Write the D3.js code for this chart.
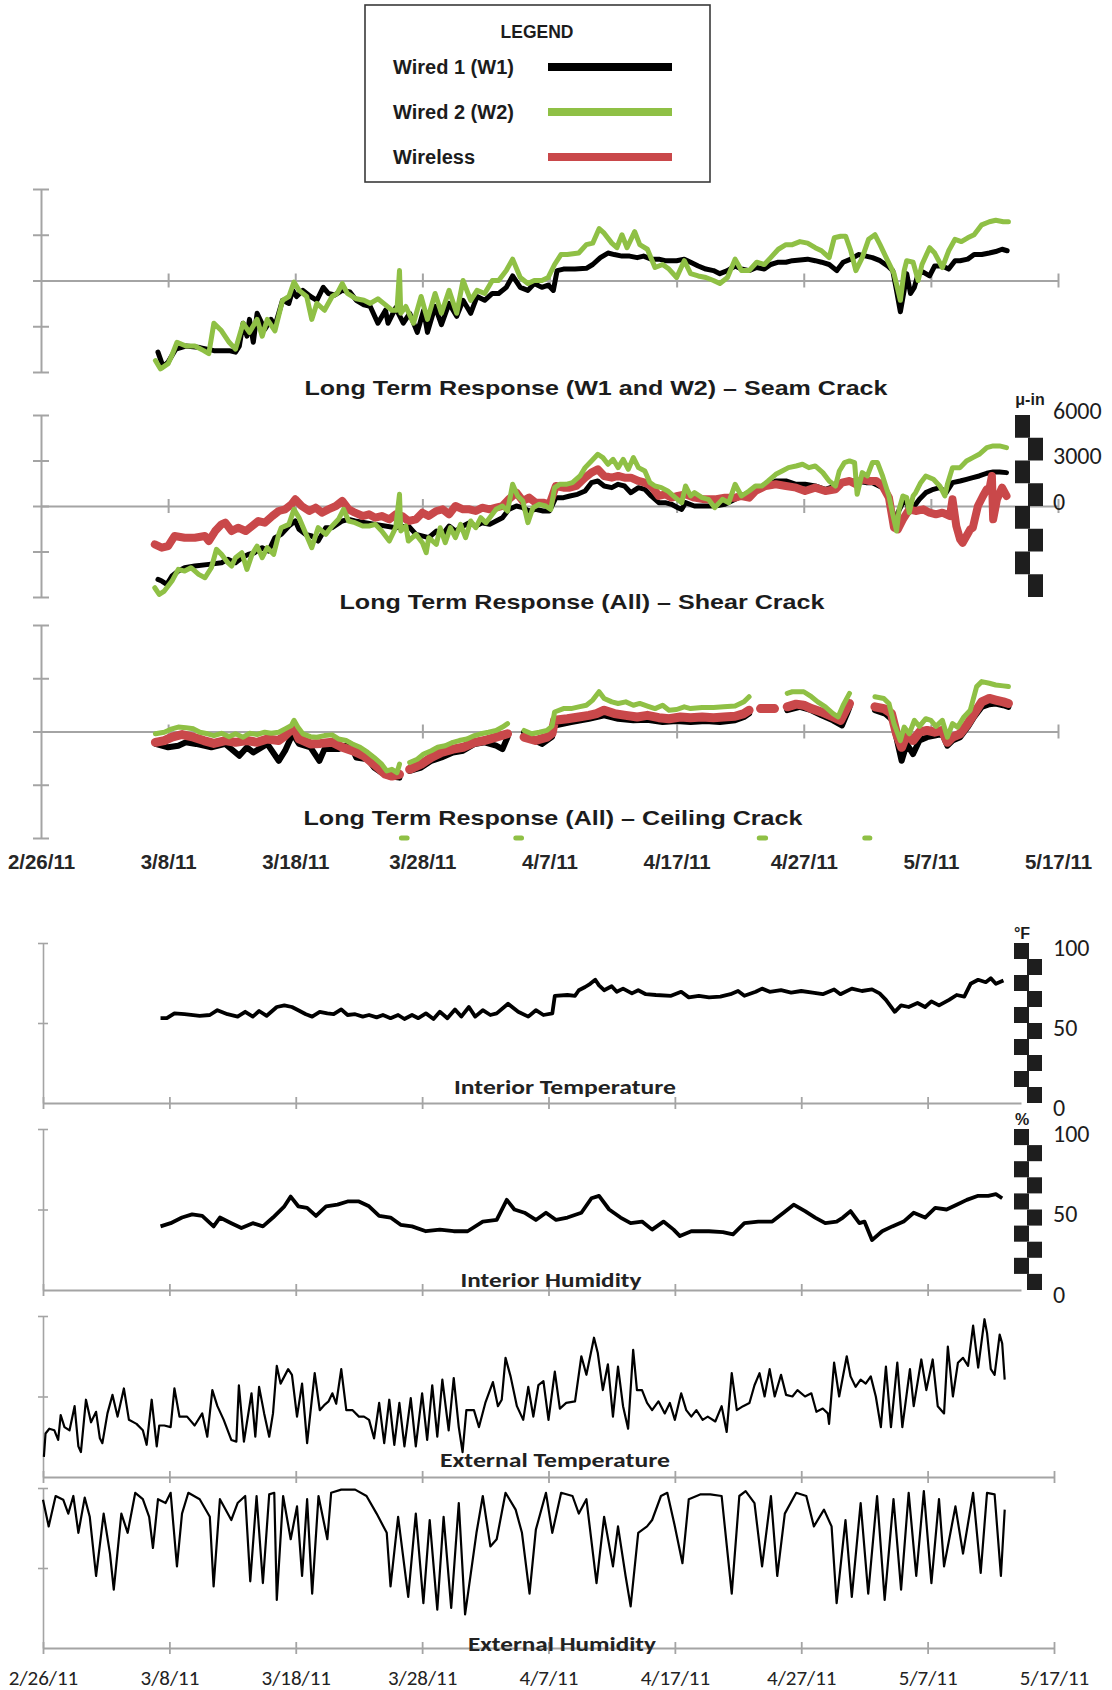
<!DOCTYPE html>
<html>
<head>
<meta charset="utf-8">
<script src="https://cdn.jsdelivr.net/npm/d3@7"></script>
<style>
  body { margin: 0; background: #fff; }
</style>
</head>
<body>
<svg id="chart" width="1112" height="1690"></svg>
<script>
// days are counted from 2/26/11
const START = Date.UTC(2011, 1, 26);
const DAY = 864e5;
const toDate = d => new Date(START + d * DAY);

const tickDays = [0, 10, 20, 30, 40, 50, 60, 70, 80];
const strainTicks = [-6000, -3000, 0, 3000, 6000];
const strainRulerLabels = [6000, 3000, 0];
const pctRulerLabels = [100, 50, 0];
const legendItems = ["Wired 1 (W1)", "Wired 2 (W2)", "Wireless"];

// [day, micro-inch]
const seamW1 = [[9.2,-4700],[9.6,-5650],[10.0,-5350],[10.6,-4500],[11.4,-4300],[12.5,-4400],[13.6,-4600],[14.8,-4600],[15.3,-4700],[15.6,-4300],[15.9,-2800],[16.2,-3650],[16.4,-2550],[16.7,-4050],[17.0,-2150],[17.6,-3200],[18.1,-2550],[18.4,-3000],[19.0,-1300],[19.5,-1500],[19.8,-650],[20.1,-1050],[20.6,-650],[21.2,-1050],[21.7,-1300],[22.2,-450],[22.6,-850],[23.1,-950],[23.7,-650],[24.3,-750],[24.8,-1300],[25.4,-1600],[25.9,-1700],[26.5,-2800],[27.1,-1950],[27.3,-2800],[27.9,-1800],[28.5,-2800],[29.0,-2150],[29.6,-3400],[30.1,-1950],[30.4,-3400],[31.0,-1700],[31.5,-2900],[32.1,-1500],[32.7,-2350],[33.2,-1300],[33.8,-2150],[34.3,-1050],[34.9,-1300],[35.5,-850],[36.0,-850],[36.6,-450],[37.1,300],[37.7,-450],[38.3,-650],[38.8,-200],[39.4,-450],[39.9,-300],[40.3,-650],[40.6,650],[41.1,750],[42.0,750],[42.9,800],[43.4,1050],[44.0,1500],[44.6,1800],[45.1,1700],[45.7,1600],[46.3,1600],[46.9,1500],[47.4,1600],[48.0,1400],[48.6,1400],[49.1,1300],[50.0,1300],[50.6,1400],[51.1,1200],[51.7,950],[52.3,750],[52.9,650],[53.4,450],[54.0,650],[54.6,950],[55.1,750],[55.7,650],[56.3,850],[56.9,750],[57.4,1050],[58.0,1200],[58.6,1200],[59.1,1300],[59.7,1350],[60.3,1400],[60.9,1300],[61.4,1200],[62.0,1050],[62.6,650],[63.1,1200],[63.7,1400],[64.3,1700],[64.9,1600],[65.4,1500],[66.0,1300],[66.6,950],[67.0,650],[67.3,-650],[67.6,-2050],[67.9,-650],[68.1,450],[68.4,-850],[68.7,-450],[69.0,450],[69.4,550],[69.9,300],[70.3,950],[70.9,950],[71.4,750],[71.9,1300],[72.3,1300],[72.9,1400],[73.4,1700],[74.0,1700],[74.6,1800],[75.1,1900],[75.6,2050],[76.0,1950]];
const seamW2 = [[9.0,-5250],[9.4,-5800],[10.0,-5450],[10.3,-4900],[10.7,-4050],[11.4,-4300],[12.1,-4300],[12.8,-4600],[13.2,-4800],[13.6,-2800],[14.2,-3300],[14.8,-4050],[15.3,-4500],[15.9,-2800],[16.4,-3400],[17.0,-2550],[17.4,-3650],[17.8,-2550],[18.4,-3300],[19.0,-1300],[19.5,-1050],[19.9,-100],[20.3,-650],[20.9,-1050],[21.3,-2550],[21.7,-1500],[22.3,-1950],[22.9,-1050],[23.3,-850],[23.7,-200],[24.1,-850],[24.8,-1200],[25.4,-1300],[25.9,-1500],[26.5,-1200],[27.1,-1600],[27.6,-1950],[28.0,-1950],[28.2,650],[28.3,-2150],[28.7,-1700],[29.3,-2800],[29.9,-1050],[30.4,-2550],[31.0,-850],[31.5,-2150],[32.1,-650],[32.7,-2150],[33.2,0],[33.8,-1300],[34.3,-650],[34.9,-850],[35.5,0],[36.0,0],[36.6,650],[37.1,1400],[37.7,200],[38.3,-200],[38.8,0],[39.4,0],[39.9,200],[40.4,1050],[40.9,1700],[41.4,1700],[42.3,1800],[42.9,2350],[43.4,2450],[43.9,3400],[44.3,3100],[44.9,2450],[45.3,2150],[45.7,3000],[46.1,2150],[46.7,3200],[47.1,2350],[47.7,2050],[48.3,850],[48.9,1050],[49.4,750],[50.0,200],[50.6,1300],[51.1,450],[51.7,300],[52.3,200],[52.9,0],[53.4,-200],[54.0,200],[54.6,1400],[55.1,650],[55.7,650],[56.3,1200],[56.9,1050],[57.4,1500],[58.0,2050],[58.6,2350],[59.1,2350],[59.7,2550],[60.3,2450],[60.9,2150],[61.4,1950],[62.0,1500],[62.4,2800],[62.9,2900],[63.3,2900],[63.7,1950],[64.1,650],[64.6,1500],[65.1,2700],[65.6,3000],[66.0,2350],[66.6,1300],[67.1,450],[67.6,-1300],[67.9,650],[68.1,1300],[68.6,1200],[69.0,0],[69.3,1050],[69.9,2150],[70.3,1800],[70.9,850],[71.4,1950],[71.9,2700],[72.4,2550],[72.9,2800],[73.4,3000],[74.0,3650],[74.6,3850],[75.1,3950],[75.7,3850],[76.1,3850]];

const shearW1 = [[9.2,-4840],[9.5,-4950],[9.9,-5170],[10.3,-4620],[10.8,-4290],[11.3,-4070],[12.1,-3960],[13.2,-3850],[14.2,-3740],[14.7,-3520],[15.3,-3740],[15.8,-3410],[16.3,-3190],[16.8,-3080],[17.4,-2750],[17.9,-2970],[18.4,-2090],[18.9,-1870],[19.5,-1320],[20.0,-990],[20.3,-1540],[20.8,-1870],[21.3,-1980],[21.8,-2310],[22.4,-1430],[22.9,-1430],[23.7,-990],[24.2,-880],[24.7,-990],[26.3,-1210],[27.9,-1430],[28.9,-1320],[29.5,-1870],[30.5,-2090],[31.1,-1650],[31.6,-1870],[32.1,-1320],[32.6,-1650],[33.2,-1320],[33.7,-1100],[34.2,-1320],[34.7,-1100],[35.3,-1210],[35.8,-990],[36.3,-770],[36.8,-220],[37.4,0],[37.9,-110],[38.4,-330],[38.9,-220],[39.5,-330],[40.0,-330],[40.5,550],[41.1,550],[41.6,660],[42.2,770],[42.8,990],[43.3,1540],[43.8,1650],[44.3,1320],[44.9,1210],[45.4,1430],[45.9,1320],[46.4,880],[47.0,1210],[47.5,1100],[48.0,660],[48.6,220],[49.1,220],[49.6,110],[50.1,-110],[50.4,-220],[50.7,220],[51.4,0],[52.2,0],[53.0,0],[53.8,110],[54.6,440],[55.4,770],[56.2,1100],[57.0,1320],[57.8,1650],[58.6,1650],[59.4,1430],[60.1,1430],[60.9,1320],[61.7,1100],[62.5,1320],[63.3,1650],[64.1,1650],[64.9,1540],[65.4,1540],[66.2,1210],[66.7,660],[67.1,-1430],[67.4,-440],[67.8,220],[68.1,330],[68.3,-440],[68.6,-110],[69.1,440],[69.6,880],[70.2,1100],[70.7,1210],[71.2,880],[71.7,1540],[72.3,1650],[72.8,1760],[73.3,1870],[73.8,1980],[74.4,2160],[74.9,2240],[75.4,2240],[75.95,2200]];
const shearW2 = [[8.95,-5390],[9.3,-5830],[9.7,-5610],[10.3,-4950],[10.8,-4180],[11.3,-4290],[11.8,-4070],[12.4,-4510],[12.9,-4730],[13.4,-4070],[13.8,-2860],[14.2,-3190],[14.7,-3740],[15.0,-3960],[15.3,-3410],[15.8,-3080],[16.2,-4180],[16.6,-3190],[17.0,-2640],[17.4,-3410],[17.8,-2750],[18.3,-3190],[18.7,-1870],[18.9,-1430],[19.5,-1210],[19.9,-220],[20.3,-770],[20.8,-1760],[21.3,-2750],[21.8,-1430],[22.4,-1870],[22.9,-1320],[23.4,-880],[23.8,-220],[24.2,-990],[24.7,-1100],[25.3,-1320],[25.8,-1320],[26.3,-1210],[26.8,-1650],[27.4,-2310],[27.9,-1430],[28.2,770],[28.3,-1650],[28.7,-1320],[28.9,-2310],[29.5,-1870],[30.0,-2420],[30.3,-3080],[30.5,-2090],[31.1,-2530],[31.4,-1430],[31.8,-2420],[32.2,-1430],[32.6,-2090],[33.0,-1210],[33.4,-2090],[33.8,-990],[34.2,-1430],[34.6,-770],[35.0,-1100],[35.4,-660],[35.8,-220],[36.3,0],[36.7,-330],[37.1,1430],[37.5,660],[37.9,330],[38.3,-1100],[38.7,-110],[39.2,110],[39.7,0],[40.1,-220],[40.4,1210],[40.8,1430],[41.3,1430],[41.8,1540],[42.4,1980],[42.8,2530],[43.3,2970],[43.8,3410],[44.2,3190],[44.6,2750],[45.0,3080],[45.4,2530],[45.8,3080],[46.2,2420],[46.6,3190],[47.0,2530],[47.5,2310],[47.9,1540],[48.3,1320],[48.8,1210],[49.3,990],[49.9,550],[50.4,220],[50.7,1320],[51.1,660],[51.4,880],[52.0,550],[52.5,440],[53.0,-110],[53.6,440],[54.1,220],[54.6,1430],[55.1,660],[55.7,990],[56.2,1320],[56.7,1320],[57.2,1650],[57.8,2090],[58.3,2310],[58.8,2530],[59.4,2640],[59.9,2750],[60.4,2530],[60.9,2640],[61.5,2200],[62.0,1650],[62.5,1320],[62.8,2310],[63.2,2860],[63.6,2970],[64.0,2860],[64.2,770],[64.6,2200],[65.0,1980],[65.4,2860],[65.8,2860],[66.2,1980],[66.7,660],[67.0,-550],[67.3,-1650],[67.5,-220],[67.8,660],[68.1,550],[68.3,-440],[68.6,660],[68.8,880],[69.2,1540],[69.6,1980],[70.2,1760],[70.7,1320],[71.1,660],[71.3,1430],[71.7,2530],[72.3,2530],[72.8,2970],[73.3,3190],[73.8,3410],[74.4,3850],[74.9,3960],[75.4,3960],[75.95,3850]];
const shearWireless = [[8.95,-2530],[9.5,-2750],[10.0,-2640],[10.5,-1980],[11.3,-2090],[12.1,-2090],[12.9,-1980],[13.2,-2310],[13.7,-1650],[14.2,-1210],[14.5,-1100],[15.0,-1650],[15.5,-1430],[16.1,-1650],[16.6,-1320],[17.1,-990],[17.6,-1100],[18.2,-660],[18.7,-330],[19.2,-220],[19.7,110],[20.0,440],[20.5,0],[21.1,-330],[21.6,-110],[22.1,-440],[22.6,-220],[23.2,0],[23.7,330],[24.2,-220],[24.7,-440],[25.3,-660],[25.8,-550],[26.3,-770],[26.8,-660],[27.4,-880],[27.9,-550],[28.4,-660],[28.9,-990],[29.5,-880],[30.0,-440],[30.5,-660],[31.1,-330],[31.6,-220],[32.1,-550],[32.6,0],[33.2,-220],[33.7,-220],[34.2,-330],[34.7,-110],[35.3,-220],[35.8,-110],[36.3,0],[36.8,440],[37.4,880],[37.9,330],[38.4,550],[38.9,220],[39.5,220],[40.0,110],[40.5,1320],[41.1,1210],[41.6,1210],[42.1,1320],[42.8,1870],[43.3,2200],[43.8,2420],[44.3,1980],[44.9,1870],[45.4,1980],[45.9,1870],[46.4,1870],[47.0,1650],[47.5,1540],[48.0,1320],[48.6,660],[49.1,770],[49.6,550],[50.1,660],[50.7,770],[51.4,550],[52.2,440],[53.0,440],[53.8,550],[54.6,550],[55.1,660],[55.7,550],[56.2,990],[57.0,1320],[57.8,1430],[58.6,1320],[59.4,1210],[60.1,990],[60.9,1210],[61.7,990],[62.5,1100],[63.0,1540],[63.6,1650],[64.1,1430],[64.6,1760],[65.2,1650],[65.7,1650],[66.2,1320],[66.7,550],[67.1,-1430],[67.4,-1540],[67.8,-880],[68.3,-220],[68.8,-330],[69.4,-220],[69.9,-440],[70.4,-550],[70.9,-440],[71.5,-660],[71.7,440],[72.0,-1320],[72.3,-2200],[72.5,-2420],[72.8,-1980],[73.1,-1540],[73.3,-1430],[73.7,0],[74.1,660],[74.4,1100],[74.6,1100],[74.8,1980],[74.9,-880],[75.2,440],[75.6,1210],[75.95,660]];

// null = no reading
const ceilW1 = [[9.0,-700],[10.0,-890],[10.8,-800],[11.4,-610],[12.2,-700],[13.4,-890],[14.5,-700],[15.6,-1370],[16.2,-890],[16.7,-1180],[17.8,-700],[18.7,-1650],[19.2,-1080],[19.8,-130],[20.3,-700],[21.2,-890],[21.9,-1650],[22.3,-990],[23.4,-990],[24.3,-700],[24.8,-1460],[25.7,-1560],[26.2,-2030],[26.8,-2320],[27.3,-2510],[28.2,-2600],[28.5,null],[29.0,-2220],[29.9,-2030],[30.7,-1650],[31.5,-1460],[32.4,-1180],[33.2,-1080],[34.1,-700],[34.9,-610],[35.8,-800],[36.3,-990],[36.7,-320],[37.3,null],[38.0,-40],[38.6,-420],[39.4,-700],[40.2,-300],[40.4,340],[41.7,530],[43.1,720],[44.3,910],[45.4,720],[46.6,630],[47.7,660],[48.9,530],[50.0,590],[51.1,530],[52.3,590],[53.4,530],[54.6,630],[55.3,820],[55.7,1010],[57.0,null],[58.7,1200],[59.7,1390],[60.6,1200],[61.4,910],[62.3,630],[63.0,340],[63.4,1010],[63.6,1390],[64.5,null],[65.6,1200],[66.4,1010],[67.0,630],[67.4,-700],[67.7,-1650],[68.1,-700],[68.6,-1270],[69.1,-510],[69.7,-320],[70.3,-230],[70.9,-130],[71.3,-800],[71.7,-510],[72.3,-320],[72.9,250],[73.4,820],[74.0,1390],[74.6,1540],[75.1,1580],[75.7,1480],[76.1,1390]];
const ceilWireless = [[9.0,-610],[9.7,-510],[10.3,-320],[11.1,-170],[12.0,-320],[12.8,-510],[13.6,-670],[14.5,-510],[15.3,-610],[16.2,-510],[17.0,-610],[17.8,-420],[18.7,-510],[19.2,-230],[19.9,250],[20.3,-420],[21.2,-700],[22.0,-670],[22.9,-610],[23.7,-890],[24.5,-1080],[25.4,-1370],[26.2,-1840],[27.1,-2410],[27.6,-2510],[28.2,-2410],[28.5,null],[29.0,-2130],[29.9,-1840],[30.7,-1460],[31.5,-1180],[32.4,-990],[33.2,-890],[34.1,-610],[34.9,-510],[35.8,-320],[36.7,-130],[37.3,null],[38.0,-320],[38.9,-510],[39.8,-320],[40.2,-100],[40.4,630],[41.4,720],[42.3,820],[43.1,910],[43.7,1010],[44.3,1200],[45.1,1010],[46.0,910],[46.9,820],[47.7,910],[48.6,780],[49.4,720],[50.3,820],[51.1,780],[52.0,820],[52.9,780],[53.7,820],[54.6,860],[55.3,1010],[55.7,1200],[56.1,null],[56.6,1290],[57.1,1290],[57.7,1290],[58.2,null],[58.7,1390],[59.4,1540],[60.0,1480],[60.6,1290],[61.4,1100],[62.3,820],[62.9,630],[63.3,1200],[63.6,1580],[64.5,null],[65.6,1390],[66.3,1290],[66.9,1010],[67.3,-130],[67.7,-890],[68.1,-130],[68.6,-510],[69.1,-40],[69.7,60],[70.3,-40],[70.9,60],[71.3,-610],[71.7,-320],[72.3,-130],[72.9,440],[73.4,1010],[74.0,1670],[74.6,1860],[75.1,1770],[75.7,1670],[76.1,1580]];
const ceilW2 = [[9.0,-130],[9.7,-40],[10.3,150],[10.8,250],[11.4,210],[12.0,150],[12.5,-40],[13.1,-130],[13.6,-230],[14.2,-100],[14.8,-290],[15.3,-130],[15.9,-320],[16.4,-100],[17.0,-170],[17.6,-40],[18.1,-100],[18.7,-40],[19.2,150],[19.7,340],[19.9,630],[20.2,250],[20.6,-130],[21.2,-290],[21.7,-320],[22.3,-230],[22.9,-190],[23.4,-420],[24.0,-510],[24.5,-700],[25.1,-890],[25.7,-1180],[26.2,-1460],[26.8,-1840],[27.2,-2220],[27.6,-2130],[28.0,-2320],[28.2,-1840],[28.25,null],[28.35,-6000],[28.8,-6000],[28.9,null],[29.0,-1750],[29.6,-1560],[30.1,-1270],[30.7,-1080],[31.2,-890],[31.8,-800],[32.4,-610],[32.9,-510],[33.5,-420],[34.1,-230],[34.6,-130],[35.2,-40],[35.8,60],[36.3,250],[36.7,440],[36.8,null],[37.35,-6000],[37.8,-6000],[37.9,null],[38.0,60],[38.6,-130],[39.2,-40],[39.8,60],[40.2,300],[40.4,1100],[41.1,1290],[41.7,1290],[42.3,1390],[42.9,1480],[43.4,1770],[43.9,2240],[44.3,1860],[44.9,1670],[45.4,1580],[46.0,1670],[46.6,1480],[47.1,1580],[47.7,1430],[48.3,1290],[48.9,1480],[49.4,1200],[50.0,1240],[50.6,1390],[51.1,1290],[52.0,1350],[52.9,1350],[53.7,1390],[54.6,1430],[55.3,1670],[55.7,1960],[55.8,null],[56.5,-6000],[57.0,-6000],[57.1,null],[58.7,2150],[59.1,2240],[60.0,2240],[60.6,1960],[61.1,1670],[61.7,1390],[62.3,1010],[62.7,820],[63.1,1480],[63.6,2150],[63.7,null],[64.8,-6000],[65.2,-6000],[65.3,null],[65.6,1960],[66.3,1860],[66.7,1580],[67.1,440],[67.6,-510],[67.9,250],[68.3,-130],[68.7,630],[69.1,290],[69.6,720],[70.0,630],[70.4,290],[70.9,630],[71.3,-320],[71.7,440],[72.1,250],[72.6,820],[73.1,1200],[73.6,2530],[74.0,2810],[74.6,2720],[75.1,2620],[75.7,2570],[76.1,2530]];

// [day, deg F]
const intTemp = [[9.3,53],[9.8,53],[10.4,56],[11.2,55.5],[12.4,54.5],[13.2,55],[13.8,58],[14.6,55.5],[15.4,54],[16.0,57],[16.6,54],[17.1,57.5],[17.7,54.5],[18.5,60],[19.1,61],[19.7,60],[20.2,58],[20.8,55.5],[21.3,54],[21.9,57],[22.5,56],[23.0,55.5],[23.6,58.5],[24.1,55],[24.7,55.5],[25.3,54],[25.8,55],[26.4,53.5],[26.9,55],[27.5,53],[28.1,55],[28.6,52.5],[29.2,55],[29.7,53],[30.3,56],[30.9,52.5],[31.4,57],[32.0,53],[32.6,58.5],[33.1,54],[33.7,60],[34.2,54],[34.8,58],[35.4,55],[35.9,56],[36.8,62],[37.6,57],[38.4,54],[39.0,58],[39.6,55],[40.3,56],[40.5,67],[41.5,67.5],[42.1,67],[42.4,70.5],[42.9,72.5],[43.3,74.5],[43.7,77],[44.0,73.5],[44.4,70.5],[45.0,73],[45.4,69.5],[45.9,71.5],[46.6,68.5],[47.1,70.5],[47.7,68],[48.5,67.5],[49.7,67],[50.5,69.5],[51.1,66],[51.9,67],[52.7,66],[53.6,66.5],[54.4,68],[55.0,70],[55.5,67],[56.4,69.5],[56.9,71.5],[57.5,69.5],[58.4,70.5],[59.2,69],[60.0,70],[60.9,69],[61.7,68],[62.6,71],[63.1,68],[64.0,71.5],[64.8,70],[65.6,71],[66.2,68.5],[66.7,64.5],[67.4,57],[67.9,61],[68.5,60],[69.2,62.5],[69.8,60],[70.3,63.5],[70.9,61],[71.7,64.5],[72.3,67.5],[72.9,66.5],[73.4,74.5],[74.0,77],[74.6,75.5],[75.0,78],[75.4,74.5],[76.0,76.5]];
// [day, %]
const intHum = [[9.3,39.5],[10.1,41.5],[11.0,45],[11.8,47],[12.6,46],[13.5,39.5],[14.0,45],[14.9,41.5],[15.7,38.5],[16.6,41.5],[17.4,39.5],[18.2,45],[19.1,52],[19.6,58],[20.2,52],[20.9,51],[21.6,46],[22.4,52],[23.3,53],[24.1,55],[25.0,55],[25.8,52],[26.6,46],[27.5,45],[28.3,40.5],[29.2,39.5],[30.3,36.5],[31.4,37.5],[32.5,36.5],[33.6,36.5],[34.8,42.5],[35.9,43.5],[36.7,56],[37.3,50],[38.1,48],[39.0,43.5],[39.8,48],[40.6,43.5],[41.5,45],[42.6,48],[43.4,57],[44.0,58.5],[44.8,50],[45.7,45],[46.5,41.5],[47.4,42.5],[48.2,37.5],[49.1,42.5],[49.9,37.5],[50.4,33.5],[51.3,36.5],[52.7,36.5],[53.8,36],[54.6,34.5],[55.5,41.5],[56.6,42.5],[57.7,42.5],[58.6,48],[59.4,53],[60.3,49],[61.1,45],[61.9,41.5],[62.8,42.5],[63.3,45],[63.9,49],[64.6,41.5],[65.0,42.5],[65.6,31],[66.4,36.5],[67.2,39.5],[68.1,42.5],[68.9,48],[69.8,45],[70.6,51],[71.5,50],[72.3,53],[73.1,56],[74.0,58.5],[74.8,58.5],[75.4,59.5],[75.9,57]];
const extTemp = [[0.07,12.5],[0.2,27],[0.5,30],[0.9,29],[1.2,23],[1.4,38.5],[1.7,31],[2.1,29],[2.5,44],[2.8,19],[3.0,15.5],[3.4,48],[3.8,34],[4.2,40.5],[4.5,24],[4.7,21],[5.1,39.5],[5.5,51],[5.9,37.5],[6.4,55],[6.8,35.5],[7.4,33],[7.9,29],[8.2,20],[8.6,48],[9.0,19],[9.2,32],[9.6,32],[10.1,31],[10.4,55],[10.8,37.5],[11.4,37.5],[12.0,32],[12.6,39.5],[13.0,25],[13.4,54],[13.8,44],[14.3,35.5],[14.9,23],[15.3,22],[15.5,57],[15.9,22],[16.5,52],[16.8,25],[17.1,56],[17.5,39.5],[17.9,25],[18.2,39.5],[18.5,69],[18.8,58],[19.4,67],[19.7,63.5],[20.1,37.5],[20.5,58],[20.9,21],[21.5,64.5],[21.9,41.5],[22.3,45],[22.6,47],[22.9,52],[23.2,45.5],[23.6,67],[24.0,41.5],[24.5,41.5],[25.0,37.5],[25.4,37.5],[25.8,35.5],[26.2,24],[26.6,46],[27.0,21],[27.4,48],[27.8,20],[28.2,46],[28.6,19],[29.1,49],[29.5,19],[30.0,52],[30.4,23],[30.8,57],[31.2,25],[31.6,60.5],[32.1,29],[32.5,61.5],[32.9,31],[33.2,15.5],[33.5,41.5],[34.1,41.5],[34.5,31],[35.0,46],[35.6,59],[36.0,44],[36.3,48],[36.6,74],[37.0,62.5],[37.5,44],[38.0,35.5],[38.4,56],[38.8,37.5],[39.2,57],[39.6,59.5],[40.0,35.5],[40.5,65.5],[40.9,42.5],[41.4,46],[42.1,47],[42.6,75],[43.0,63.5],[43.6,86.5],[43.9,77],[44.3,54],[44.7,70],[45.1,37.5],[45.5,68.5],[45.9,44],[46.3,30],[46.7,79],[47.0,54],[47.4,54],[47.8,46],[48.2,41.5],[48.7,47],[49.2,39.5],[49.6,46],[50.0,35.5],[50.5,52],[50.9,41.5],[51.3,37.5],[51.7,41.5],[52.2,35.5],[52.6,37.5],[53.2,34.5],[53.7,44],[54.1,28],[54.5,64.5],[54.9,41.5],[55.4,44],[55.9,46],[56.3,57],[56.7,64.5],[57.1,50],[57.5,67],[57.9,50],[58.4,63.5],[58.8,51],[59.3,50],[59.7,54],[60.3,50],[60.8,52],[61.2,40.5],[61.7,42.5],[62.1,39.5],[62.2,33],[62.6,71],[63.0,50],[63.6,75],[63.9,62.5],[64.3,56],[64.7,60.5],[65.1,58],[65.5,62.5],[65.9,50],[66.3,31],[66.7,68.5],[67.1,31],[67.6,71],[68.0,31],[68.6,67],[68.9,44],[69.5,73],[69.9,54],[70.4,73],[70.8,44],[71.3,39.5],[71.6,81],[72.0,50],[72.4,71],[72.8,74],[73.2,69],[73.6,94],[74.0,68],[74.5,98],[74.7,89.5],[75.0,67],[75.3,63.5],[75.7,88.5],[75.9,83],[76.1,60.5]];
const extHum = [[0.0,92.7],[0.45,76],[1.0,95],[1.6,92.7],[2.0,84],[2.4,95],[2.8,72],[3.3,94],[3.7,82],[4.2,45],[4.8,84],[5.3,59],[5.6,36.5],[6.2,84],[6.7,72],[7.3,97],[7.9,93],[8.4,82],[8.7,62.5],[9.1,93],[9.7,90.6],[10.1,97],[10.6,51],[11.0,84],[11.5,97],[12.4,93],[13.2,82],[13.5,38.5],[14.0,93],[14.9,80],[15.4,90.6],[16.0,95],[16.4,41.7],[16.9,95],[17.4,40.6],[17.9,96],[18.3,97],[18.5,30],[19.0,95],[19.6,68],[20.1,88.5],[20.5,45],[20.9,93],[21.3,34],[21.8,95],[22.5,68],[22.8,97],[23.6,99],[24.7,99],[25.6,95],[26.4,84],[27.2,72],[27.5,38.5],[28.1,82],[28.9,32],[29.5,84],[30.1,28],[30.6,80],[31.2,24],[31.7,82],[32.3,25],[32.9,90.6],[33.4,21],[34.3,72],[34.8,95],[35.4,63.5],[35.9,68],[36.6,97],[37.4,86.5],[37.9,72],[38.5,34],[39.0,74],[39.8,97],[40.3,72],[41.0,97],[41.9,95],[42.4,84],[43.0,93],[43.8,40.6],[44.4,82],[45.1,51],[45.5,76],[46.1,45],[46.5,26],[47.1,72],[47.8,76],[48.2,80],[48.9,95],[49.4,97],[50.0,76],[50.6,53],[51.1,93],[52.0,96],[52.8,96],[53.7,95],[54.5,34],[55.1,95],[55.6,98],[56.3,90.6],[56.9,51],[57.6,95],[58.1,45],[58.7,84],[59.6,97],[60.4,95],[61.0,76],[61.8,86.5],[62.4,76],[62.8,28],[63.5,80],[64.0,32],[64.7,90.6],[65.3,34],[66.0,95],[66.6,30],[67.3,93],[67.9,36.5],[68.5,97],[69.1,45],[69.7,98],[70.3,40.6],[70.9,93],[71.3,51],[72.2,88.5],[72.8,59],[73.6,97],[74.2,47],[74.7,97],[75.3,96],[75.8,45],[76.1,86.5]];

const GRAY = "#a4a4a4", GREEN = "#8fc045", RED = "#c9484a", INK = "#1c1c1c";
const ARIAL = "'Liberation Sans', Arial, sans-serif";
const CALIBRI = "Carlito, Lato, 'Open Sans', sans-serif";

const svg = d3.select("#chart");
const fmt = d3.utcFormat("%-m/%-d/%y");

// ---- legend
const lg = svg.append("g");
lg.append("rect").attr("x", 365).attr("y", 5).attr("width", 345).attr("height", 177)
  .attr("fill", "none").attr("stroke", "#3a3a3a").attr("stroke-width", 1.6);
lg.append("text").attr("x", 537).attr("y", 32).attr("dominant-baseline", "central")
  .attr("text-anchor", "middle").attr("font-family", ARIAL).attr("font-weight", "bold")
  .attr("font-size", 17.5).attr("fill", INK).text("LEGEND");
const legendY = d3.scalePoint().domain(legendItems).range([67, 157]);
const legendColor = d3.scaleOrdinal().domain(legendItems).range(["#000", GREEN, RED]);
const li = lg.selectAll("g.item").data(legendItems).join("g").attr("class", "item");
li.append("text").attr("x", 393).attr("y", d => legendY(d)).attr("dominant-baseline", "central")
  .attr("font-family", ARIAL).attr("font-weight", "bold").attr("font-size", 20).attr("fill", INK)
  .text(d => d);
li.append("line").attr("x1", 548).attr("x2", 672).attr("y1", d => legendY(d)).attr("y2", d => legendY(d))
  .attr("stroke", d => legendColor(d)).attr("stroke-width", 8);

// ---- strain panels
const xTop = d3.scaleUtc().domain([toDate(0), toDate(80)]).range([41, 1058]);
const topPanels = [
  { range: [372, 189], series: [[seamW1, "#000", 5], [seamW2, GREEN, 5]],
    title: "Long Term Response (W1 and W2) – Seam Crack", tx: 596, ty: 387, tw: 583 },
  { range: [597, 415], series: [[shearW1, "#000", 5], [shearWireless, RED, 8], [shearW2, GREEN, 5]],
    title: "Long Term Response (All) – Shear Crack", tx: 582, ty: 601, tw: 485 },
  { range: [838, 625], series: [[ceilW1, "#000", 6], [ceilWireless, RED, 9], [ceilW2, GREEN, 5]],
    title: "Long Term Response (All) – Ceiling Crack", tx: 553, ty: 817, tw: 499 }
];

function styleAxis(a, w) {
  a.select(".domain").attr("stroke", GRAY).attr("stroke-width", w);
  a.selectAll(".tick line").attr("stroke", GRAY).attr("stroke-width", w);
}

topPanels.forEach(p => {
  const y = d3.scaleLinear().domain([-6000, 6000]).range(p.range);
  p.y = y;
  const g = svg.append("g");
  g.append("g").attr("transform", `translate(${xTop.range()[0]},0)`)
    .call(d3.axisLeft(y).tickValues(strainTicks).tickSize(8).tickSizeOuter(0).tickFormat(""))
    .call(a => { styleAxis(a, 2); a.selectAll(".tick line").attr("x1", 8); });
  g.append("g").attr("transform", `translate(0,${y(0)})`)
    .call(d3.axisBottom(xTop).tickValues(tickDays.slice(1).map(toDate)).tickSize(7).tickSizeOuter(0).tickFormat(""))
    .call(a => { styleAxis(a, 2); a.selectAll(".tick line").attr("y1", -7); });
  const line = d3.line().defined(d => d[1] !== null)
    .x(d => xTop(toDate(d[0]))).y(d => y(d[1]));
  p.series.forEach(([data, color, w]) => {
    g.append("path").datum(data).attr("d", line).attr("fill", "none")
      .attr("stroke", color).attr("stroke-width", w)
      .attr("stroke-linejoin", "round").attr("stroke-linecap", "round");
  });
  g.append("text").attr("x", p.tx).attr("y", p.ty).attr("text-anchor", "middle")
    .attr("dominant-baseline", "central").attr("font-family", ARIAL).attr("font-weight", "bold")
    .attr("font-size", 21).attr("fill", INK)
    .attr("textLength", p.tw).attr("lengthAdjust", "spacingAndGlyphs").text(p.title);
});

svg.append("g").attr("transform", "translate(0,851)")
  .call(d3.axisBottom(xTop).tickValues(tickDays.map(toDate)).tickSize(0).tickFormat(fmt))
  .call(a => {
    a.select(".domain").remove();
    a.selectAll("text").attr("font-family", ARIAL).attr("font-weight", "bold")
      .attr("font-size", 20.5).attr("fill", "#262626");
  });

// checker-board ruler
function checker(y, vTop, vBottom, step, x0) {
  const tops = d3.range(vTop, vBottom, -step);
  svg.append("g").selectAll("rect").data(tops).join("rect")
    .attr("x", (d, i) => x0 + (i % 2) * 13)
    .attr("y", d => y(d))
    .attr("width", 15)
    .attr("height", d => y(d - step) - y(d))
    .attr("fill", "#1e1e1e");
}
function rulerLabels(y, vals, unit, unitX, unitY, dy) {
  const g = svg.append("g");
  g.selectAll("text").data(vals).join("text")
    .attr("x", 1053).attr("y", d => y(d) + dy).attr("dominant-baseline", "central")
    .attr("font-family", CALIBRI).attr("font-size", 24).attr("fill", INK).text(d => d);
  g.append("text").attr("x", unitX).attr("y", unitY).attr("text-anchor", "middle")
    .attr("dominant-baseline", "central").attr("font-family", ARIAL).attr("font-weight", "bold")
    .attr("font-size", 16).attr("fill", INK).text(unit);
}
const shearY = topPanels[1].y;
checker(shearY, 6000, -6000, 1500, 1015);
rulerLabels(shearY, strainRulerLabels, "μ-in", 1030, 399, -5);

// ---- environment panels
const xBot = d3.scaleUtc().domain([toDate(0), toDate(80)]).range([43, 1054]);
const botPanels = [
  { data: intTemp, range: [1103, 943], end: 1021, w: 3.8, title: "Interior Temperature", tx: 565, ty: 1087, tw: 222,
    unit: "°F", unitY: 933 },
  { data: intHum, range: [1290, 1129], end: 1021, w: 3.8, title: "Interior Humidity", tx: 551, ty: 1280, tw: 181,
    unit: "%", unitY: 1119 },
  { data: extTemp, range: [1477, 1316], end: 1054, w: 2.2, title: "External Temperature", tx: 555, ty: 1460, tw: 230 },
  { data: extHum, range: [1648, 1488], end: 1054, w: 2.2, title: "External Humidity", tx: 562, ty: 1644, tw: 188 }
];

botPanels.forEach(p => {
  const y = d3.scaleLinear().domain([0, 100]).range(p.range);
  const xs = xBot.copy().domain([toDate(0), xBot.invert(p.end)]).range([43, p.end]);
  const g = svg.append("g");
  g.append("g").attr("transform", "translate(43,0)")
    .call(d3.axisLeft(y).tickValues([50, 100]).tickSize(5).tickSizeOuter(0).tickFormat(""))
    .call(a => { styleAxis(a, 1.6); a.selectAll(".tick line").attr("x1", 5); });
  g.append("g").attr("transform", `translate(0,${y(0)})`)
    .call(d3.axisBottom(xs).tickValues(tickDays.filter(d => toDate(d) <= xs.domain()[1]).map(toDate))
      .tickSize(6).tickSizeOuter(0).tickFormat(""))
    .call(a => { styleAxis(a, 1.8); a.selectAll(".tick line").attr("y1", -6); });
  const line = d3.line().x(d => xBot(toDate(d[0]))).y(d => y(d[1]));
  g.append("path").datum(p.data).attr("d", line).attr("fill", "none")
    .attr("stroke", "#000").attr("stroke-width", p.w).attr("stroke-linejoin", "round");
  g.append("text").attr("x", p.tx).attr("y", p.ty).attr("text-anchor", "middle")
    .attr("dominant-baseline", "central").attr("font-family", CALIBRI).attr("font-weight", "bold")
    .attr("font-size", 20).attr("fill", "#222")
    .attr("textLength", p.tw).attr("lengthAdjust", "spacingAndGlyphs").text(p.title);
  if (p.unit) {
    checker(y, 100, 0, 10, 1014);
    rulerLabels(y, pctRulerLabels, p.unit, 1022, p.unitY, 4);
  }
});

svg.append("g").attr("transform", "translate(0,1667)")
  .call(d3.axisBottom(xBot).tickValues(tickDays.map(toDate)).tickSize(0).tickFormat(fmt))
  .call(a => {
    a.select(".domain").remove();
    a.selectAll("text").attr("font-family", CALIBRI).attr("font-size", 21).attr("fill", "#222");
  });
</script>
</body>
</html>
